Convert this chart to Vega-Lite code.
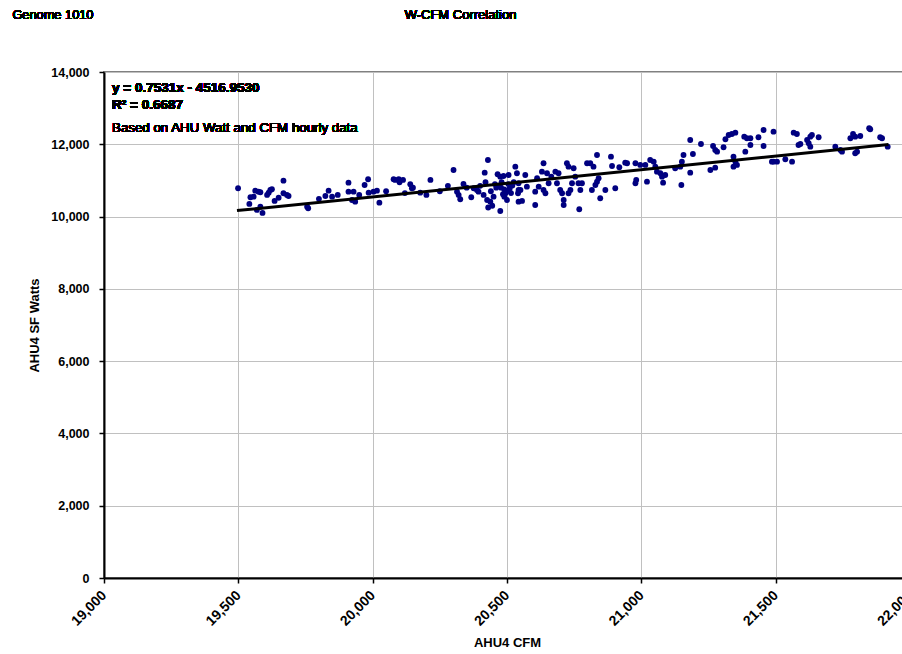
{
  "$schema": "https://vega.github.io/schema/vega-lite/v6.json",
  "width": 806,
  "height": 506,
  "autosize": {"type": "none"},
  "padding": {"left": 104, "top": 72, "right": 0, "bottom": 76},
  "background": "white",
  "config": {
    "view": {"stroke": "#808080", "strokeWidth": 2},
    "font": "Liberation Sans",
    "axis": {
      "labelFont": "Liberation Sans",
      "labelFontWeight": "bold",
      "labelFontSize": 12.5,
      "labelColor": "#000000",
      "titleFont": "Liberation Sans",
      "titleFontWeight": "bold",
      "titleFontSize": 13,
      "titleColor": "#000000",
      "gridColor": "#c0c0c0",
      "gridWidth": 1,
      "domainColor": "#000000",
      "domainWidth": 2,
      "tickColor": "#000000",
      "tickSize": 5,
      "tickWidth": 1.5
    }
  },
  "data": {
    "values": [
      {"cfm":19499,"watts":10783},{"cfm":19541,"watts":10349},{"cfm":19545,"watts":10534},{"cfm":19557,"watts":10551},
      {"cfm":19563,"watts":10717},{"cfm":19575,"watts":10689},{"cfm":19582,"watts":10672},{"cfm":19569,"watts":10183},
      {"cfm":19582,"watts":10274},{"cfm":19607,"watts":10598},{"cfm":19613,"watts":10661},{"cfm":19619,"watts":10736},
      {"cfm":19625,"watts":10755},{"cfm":19635,"watts":10432},{"cfm":19668,"watts":10993},{"cfm":19668,"watts":10645},
      {"cfm":19681,"watts":10598},{"cfm":19687,"watts":10570},{"cfm":19756,"watts":10274},{"cfm":19824,"watts":10570},
      {"cfm":19836,"watts":10717},{"cfm":19849,"watts":10551},{"cfm":19910,"watts":10938},{"cfm":19910,"watts":10689},
      {"cfm":19929,"watts":10689},{"cfm":19923,"watts":10459},{"cfm":19935,"watts":10412},{"cfm":19970,"watts":10874},
      {"cfm":19983,"watts":11032},{"cfm":19985,"watts":10661},{"cfm":20003,"watts":10689},{"cfm":20016,"watts":10717},
      {"cfm":20025,"watts":10385},{"cfm":20078,"watts":11032},{"cfm":19590,"watts":10100},{"cfm":19650,"watts":10520},
      {"cfm":19760,"watts":10230},{"cfm":19800,"watts":10490},{"cfm":19870,"watts":10600},{"cfm":19950,"watts":10600},
      {"cfm":20050,"watts":10700},{"cfm":20100,"watts":10950},{"cfm":20120,"watts":10650},{"cfm":20150,"watts":10800},
      {"cfm":20084,"watts":11013},{"cfm":20097,"watts":11032},{"cfm":20113,"watts":11013},{"cfm":20140,"watts":10894},
      {"cfm":20146,"watts":10783},{"cfm":20177,"watts":10661},{"cfm":20200,"watts":10598},{"cfm":20215,"watts":11013},
      {"cfm":20301,"watts":11289},{"cfm":20314,"watts":10689},{"cfm":20326,"watts":10479},{"cfm":20338,"watts":10902},
      {"cfm":20367,"watts":10534},{"cfm":20376,"watts":10783},{"cfm":20388,"watts":10736},{"cfm":20394,"watts":10689},
      {"cfm":20417,"watts":11215},{"cfm":20429,"watts":11566},{"cfm":20413,"watts":10598},{"cfm":20426,"watts":10459},
      {"cfm":20438,"watts":10412},{"cfm":20475,"watts":10155},{"cfm":20465,"watts":11170},{"cfm":20475,"watts":11104},
      {"cfm":20487,"watts":11123},{"cfm":20506,"watts":11151},{"cfm":20470,"watts":10850},{"cfm":20478,"watts":10800},
      {"cfm":20490,"watts":10750},{"cfm":20500,"watts":10700},{"cfm":20510,"watts":10780},{"cfm":20520,"watts":10860},
      {"cfm":20495,"watts":10650},{"cfm":20485,"watts":10620},{"cfm":20515,"watts":10650},{"cfm":20500,"watts":10459},
      {"cfm":20543,"watts":10736},{"cfm":20543,"watts":10412},{"cfm":20400,"watts":10850},{"cfm":20420,"watts":10950},
      {"cfm":20440,"watts":10700},{"cfm":20450,"watts":10550},{"cfm":20455,"watts":10900},{"cfm":20460,"watts":10800},
      {"cfm":20480,"watts":10950},{"cfm":20490,"watts":10550},{"cfm":20505,"watts":10900},{"cfm":20525,"watts":10950},
      {"cfm":20445,"watts":10300},{"cfm":20430,"watts":10250},{"cfm":20350,"watts":10800},{"cfm":20280,"watts":10850},
      {"cfm":20250,"watts":10700},{"cfm":20320,"watts":10600},
      {"cfm":20531,"watts":11381},{"cfm":20537,"watts":11198},{"cfm":20543,"watts":10921},{"cfm":20550,"watts":10736},
      {"cfm":20541,"watts":10645},{"cfm":20568,"watts":11151},{"cfm":20574,"watts":10827},{"cfm":20556,"watts":10432},
      {"cfm":20605,"watts":10321},{"cfm":20612,"watts":11060},{"cfm":20618,"watts":10827},{"cfm":20605,"watts":10689},
      {"cfm":20636,"watts":11475},{"cfm":20630,"watts":11242},{"cfm":20649,"watts":11198},{"cfm":20636,"watts":10736},
      {"cfm":20643,"watts":10645},{"cfm":20655,"watts":10921},{"cfm":20665,"watts":11104},{"cfm":20680,"watts":11242},
      {"cfm":20692,"watts":11198},{"cfm":20686,"watts":10921},{"cfm":20698,"watts":10736},{"cfm":20705,"watts":10645},
      {"cfm":20711,"watts":10459},{"cfm":20711,"watts":10321},{"cfm":20723,"watts":11475},{"cfm":20729,"watts":11381},
      {"cfm":20748,"watts":11336},{"cfm":20754,"watts":11104},{"cfm":20742,"watts":10921},{"cfm":20736,"watts":10736},
      {"cfm":20729,"watts":10645},{"cfm":20769,"watts":10202},{"cfm":20766,"watts":10921},{"cfm":20773,"watts":10736},
      {"cfm":20779,"watts":10921},{"cfm":20798,"watts":11475},{"cfm":20810,"watts":11475},{"cfm":20822,"watts":11381},
      {"cfm":20835,"watts":11704},{"cfm":20835,"watts":10966},{"cfm":20841,"watts":11060},{"cfm":20829,"watts":10874},
      {"cfm":20816,"watts":10736},{"cfm":20866,"watts":10736},{"cfm":20847,"watts":10506},{"cfm":20887,"watts":11657},
      {"cfm":20891,"watts":11400},{"cfm":20903,"watts":10783},{"cfm":20918,"watts":11364},{"cfm":20940,"watts":11491},
      {"cfm":20947,"watts":11475},{"cfm":20978,"watts":11475},{"cfm":20978,"watts":10921},{"cfm":20981,"watts":11013},
      {"cfm":20996,"watts":11428},
      {"cfm":21015,"watts":11428},{"cfm":21021,"watts":10966},{"cfm":21033,"watts":11566},{"cfm":21046,"watts":11519},
      {"cfm":21052,"watts":11381},{"cfm":21058,"watts":11242},{"cfm":21071,"watts":11198},{"cfm":21077,"watts":11104},
      {"cfm":21089,"watts":11151},{"cfm":21081,"watts":10938},{"cfm":21126,"watts":11336},{"cfm":21145,"watts":11381},
      {"cfm":21151,"watts":11519},{"cfm":21157,"watts":11704},{"cfm":21149,"watts":10874},{"cfm":21182,"watts":12119},
      {"cfm":21192,"watts":11732},{"cfm":21182,"watts":11215},{"cfm":21222,"watts":12009},{"cfm":21257,"watts":11289},
      {"cfm":21275,"watts":11353},{"cfm":21267,"watts":11953},{"cfm":21275,"watts":11843},{"cfm":21282,"watts":11796},
      {"cfm":21306,"watts":11917},{"cfm":21313,"watts":12139},{"cfm":21325,"watts":12258},{"cfm":21337,"watts":12285},
      {"cfm":21350,"watts":12322},{"cfm":21343,"watts":11657},{"cfm":21350,"watts":11519},{"cfm":21356,"watts":11428},
      {"cfm":21343,"watts":11381},{"cfm":21383,"watts":12211},{"cfm":21393,"watts":12167},{"cfm":21406,"watts":12167},
      {"cfm":21406,"watts":11981},{"cfm":21387,"watts":11796},{"cfm":21436,"watts":12194},{"cfm":21455,"watts":12396},
      {"cfm":21455,"watts":11953},{"cfm":21486,"watts":11519},{"cfm":21492,"watts":12349},{"cfm":21492,"watts":11519},
      {"cfm":21505,"watts":11519},{"cfm":21536,"watts":11585},{"cfm":21561,"watts":11519},{"cfm":21567,"watts":12322},
      {"cfm":21579,"watts":12285},{"cfm":21585,"watts":11981},{"cfm":21592,"watts":12009},{"cfm":21617,"watts":12119},
      {"cfm":21629,"watts":12211},{"cfm":21635,"watts":12258},{"cfm":21660,"watts":12194},{"cfm":21623,"watts":12028},
      {"cfm":21629,"watts":11934},{"cfm":21722,"watts":11934},{"cfm":21741,"watts":11843},{"cfm":21747,"watts":11796},
      {"cfm":21778,"watts":12167},{"cfm":21788,"watts":12285},{"cfm":21796,"watts":12211},{"cfm":21796,"watts":11751},
      {"cfm":21803,"watts":11796},{"cfm":21815,"watts":12230},{"cfm":21848,"watts":12443},{"cfm":21852,"watts":12415},
      {"cfm":21889,"watts":12194},{"cfm":21896,"watts":12167},{"cfm":21917,"watts":11934}
    ]
  },
  "layer": [
    {
      "mark": {"type": "point", "shape": "circle", "filled": true, "color": "#000080", "size": 34, "opacity": 1},
      "encoding": {
        "x": {
          "field": "cfm", "type": "quantitative",
          "scale": {"domain": [19000, 22000], "nice": false, "zero": false},
          "axis": {"title": "AHU4 CFM", "values": [19000, 19500, 20000, 20500, 21000, 21500, 22000], "format": ",.0f", "labelAngle": -45, "labelAlign": "right", "labelBaseline": "middle", "labelFontSize": 14, "labelPadding": 10, "titlePadding": 8}
        },
        "y": {
          "field": "watts", "type": "quantitative",
          "scale": {"domain": [0, 14000], "nice": false},
          "axis": {"title": "AHU4 SF Watts", "values": [0, 2000, 4000, 6000, 8000, 10000, 12000, 14000], "format": ",.0f", "labelPadding": 10, "titlePadding": 9}
        }
      }
    },
    {
      "data": {"values": [{"cfm": 19495, "watts": 10164.8}, {"cfm": 21920, "watts": 11991.0}]},
      "mark": {"type": "line", "color": "#000000", "strokeWidth": 3},
      "encoding": {
        "x": {"field": "cfm", "type": "quantitative"},
        "y": {"field": "watts", "type": "quantitative"}
      }
    },
    {
      "mark": {"type": "text", "text": ["y = 0.7531x - 4516.9530", "R² = 0.6687"], "align": "left", "baseline": "alphabetic", "font": "Liberation Sans", "fontSize": 13.5, "fontWeight": "bold", "lineHeight": 17, "color": "#000000"},
      "encoding": {"x": {"datum": 19030}, "y": {"datum": 13448}}
    },
    {
      "mark": {"type": "text", "text": "Based on AHU Watt and CFM hourly data", "align": "left", "baseline": "alphabetic", "font": "Liberation Sans", "fontSize": 13.3, "color": "#000000"},
      "encoding": {"x": {"datum": 19030}, "y": {"datum": 12341}}
    },
    {
      "mark": {"type": "text", "text": "Genome 1010", "align": "left", "baseline": "alphabetic", "font": "Liberation Sans", "fontSize": 12.8, "color": "#000000"},
      "encoding": {"x": {"datum": 18659}, "y": {"datum": 15468}}
    },
    {
      "mark": {"type": "text", "text": "W-CFM Correlation", "align": "center", "baseline": "alphabetic", "font": "Liberation Sans", "fontSize": 13, "color": "#000000"},
      "encoding": {"x": {"datum": 20327}, "y": {"datum": 15468}}
    }
  ]
}
